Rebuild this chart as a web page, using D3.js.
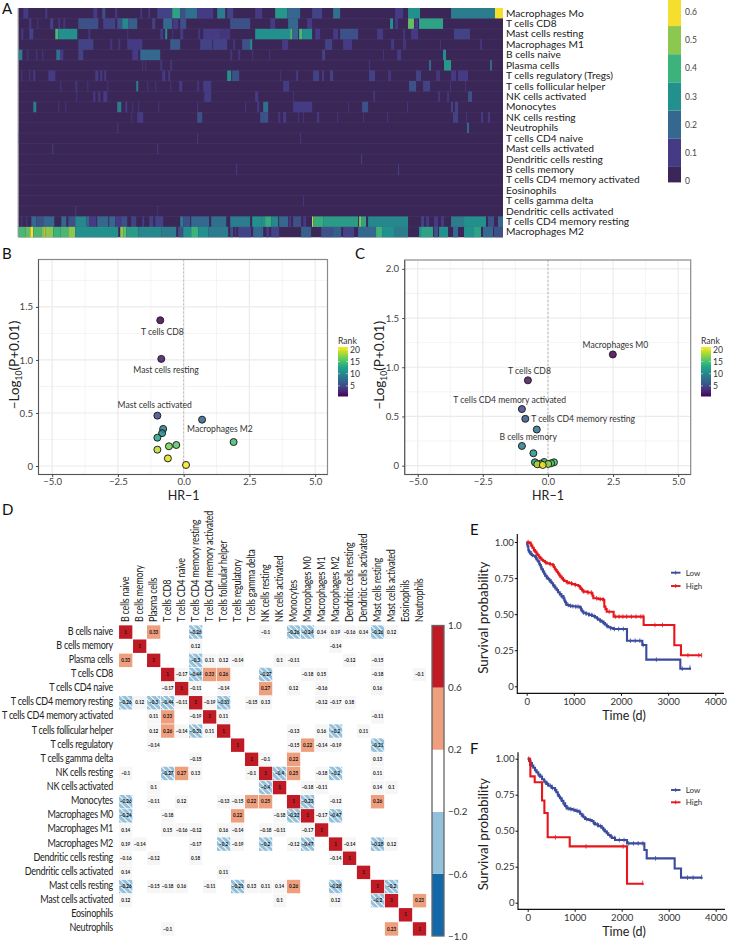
<!DOCTYPE html>
<html><head><meta charset="utf-8">
<script src="https://cdn.jsdelivr.net/npm/d3@7"></script>
<style>html,body{margin:0;padding:0;background:#fff}svg{display:block}text{font-family:Lato,"Open Sans",sans-serif}</style>
</head><body><svg id="c" width="735" height="942"></svg>
<script>
// ---- Panel A
const heatNames=["Macrophages M0","T cells CD8","Mast cells resting","Macrophages M1","B cells naive","Plasma cells","T cells regulatory (Tregs)","T cells follicular helper","NK cells activated","Monocytes","NK cells resting","Neutrophils","T cells CD4 naive","Mast cells activated","Dendritic cells resting","B cells memory","T cells CD4 memory activated","Eosinophils","T cells gamma delta","Dendritic cells activated","T cells CD4 memory resting","Macrophages M2"];
const heatDisplay=heatNames.map(d=>d==="Macrophages M0"?"Macrophages Mo":d);
const sampleCount=485;
// runs per row: [first sample, end sample, fraction]
const heatRuns=[
[[5,10,.1],[27,29,.1],[75,79,.1],[84,87,.15],[97,99,.1],[122,124,.08],[130,132,.08],[139,154,.12],[154,162,.35],[162,167,.15],[167,179,.22],[179,195,.1],[199,207,.25],[209,215,.12],[237,244,.1],[257,269,.32],[269,282,.2],[294,304,.12],[315,322,.22],[377,385,.1],[390,402,.3],[433,477,.25],[477,485,.6]],
[[11,13,.1],[19,20,.08],[32,35,.12],[40,42,.08],[45,47,.08],[60,80,.15],[85,97,.12],[99,104,.15],[104,110,.28],[110,119,.18],[134,137,.12],[145,154,.2],[155,160,.1],[162,168,.15],[212,232,.15],[252,257,.1],[270,280,.2],[289,294,.1],[372,375,.3],[377,380,.1],[390,396,.45],[397,400,.1],[401,425,.35]],
[[3,5,.1],[11,15,.12],[37,40,.42],[40,59,.3],[70,72,.08],[109,110,.08],[142,145,.1],[147,149,.3],[154,155,.08],[162,165,.1],[180,182,.08],[185,202,.1],[202,212,.08],[237,272,.3],[272,274,.42],[274,280,.2],[281,284,.42],[284,294,.3],[297,302,.1],[315,320,.1],[322,340,.15],[359,365,.1],[385,387,.08],[393,400,.1],[436,452,.12]],
[[60,75,.12],[92,94,.08],[100,102,.08],[109,124,.1],[152,162,.17],[182,194,.12],[195,209,.12],[215,217,.08],[224,232,.15],[232,234,.3],[264,270,.1],[307,314,.12],[325,334,.1],[373,376,.1],[385,388,.08],[422,423,.08],[462,464,.08]],
[[0,4,.25],[9,10,.1],[18,19,.1],[24,25,.1],[38,42,.22],[42,45,.1],[60,65,.12],[114,120,.1],[122,142,.2],[212,214,.08],[220,222,.08],[234,235,.08],[251,252,.08],[304,307,.12],[365,366,.08],[379,383,.1],[425,428,.3]],
[[124,125,.08],[127,128,.08],[142,144,.08],[152,154,.08],[351,352,.08],[411,413,.2],[426,433,.32],[472,474,.2]],
[[3,4,.1],[11,12,.1],[15,17,.1],[30,37,.1],[77,80,.1],[82,84,.1],[86,88,.1],[144,147,.1],[150,152,.1],[209,213,.3],[214,221,.15],[262,263,.08],[278,280,.1],[295,301,.12],[304,306,.1],[312,315,.12],[351,357,.12],[370,373,.08],[398,403,.12],[418,422,.08],[433,438,.1],[440,450,.1]],
[[42,43,.08],[57,59,.08],[69,70,.08],[89,90,.08],[118,120,.25],[129,130,.08],[137,138,.08],[152,153,.08],[161,164,.1],[179,181,.08],[185,193,.1],[265,271,.1],[391,398,.15],[405,412,.12],[432,433,.08],[447,448,.08]],
[[58,59,.08],[75,77,.1],[80,82,.1],[85,89,.1],[186,193,.1],[237,240,.1],[275,276,.08],[355,357,.08],[420,422,.08],[429,431,.08],[450,454,.15]],
[[15,18,.25],[40,41,.08],[47,48,.08],[99,103,.25],[107,109,.1],[114,115,.08],[120,121,.08],[140,141,.08],[179,180,.08],[227,228,.08],[239,241,.1],[245,250,.22],[275,294,.1],[330,331,.08],[344,350,.15],[389,390,.08],[433,435,.12],[437,440,.12]],
[[113,114,.08],[119,125,.1],[179,184,.15],[242,250,.15],[260,262,.08],[265,268,.1],[280,281,.08],[285,286,.08],[299,301,.1],[319,320,.08],[345,346,.08],[369,370,.08],[435,440,.12],[448,449,.08],[463,465,.1],[470,472,.1]],
[[99,100,.1],[449,451,.2]],
[[0,1,.1],[179,180,.1],[282,283,.1]],
[[34,35,.12],[139,140,.1]],
[[343,344,.12]],
[[218,219,.1],[380,381,.12]],
[],[],
[[285,286,.1]],
[[57,58,.1],[139,140,.07]],
[[3,4,.1],[8,9,.1],[13,18,.2],[18,25,.15],[25,36,.2],[43,48,.2],[50,57,.15],[57,68,.28],[68,71,.2],[71,78,.1],[79,90,.2],[91,97,.2],[97,103,.1],[103,109,.15],[113,118,.12],[124,126,.1],[131,135,.12],[137,145,.12],[162,165,.25],[165,172,.15],[173,191,.2],[193,208,.22],[212,232,.25],[234,243,.3],[243,247,.3],[247,253,.38],[253,260,.28],[261,270,.2],[271,273,.1],[275,283,.15],[285,288,.1],[294,295,.6],[295,305,.38],[305,340,.33],[341,343,.5],[343,348,.36],[350,390,.28],[403,406,.12],[408,411,.1],[416,420,.1],[423,426,.1],[433,446,.25],[446,468,.3],[470,476,.15],[480,485,.2]],
[[0,7,.42],[7,12,.45],[12,15,.6],[15,23,.42],[23,26,.48],[26,27,.6],[27,35,.5],[35,42,.4],[42,50,.42],[50,57,.5],[57,100,.3],[102,105,.5],[105,108,.45],[108,120,.33],[120,143,.28],[143,158,.25],[160,165,.15],[165,173,.3],[173,180,.4],[180,190,.3],[190,210,.25],[212,215,.15],[217,218,.12],[220,233,.12],[235,243,.2],[243,245,.2],[248,251,.1],[253,261,.12],[283,293,.18],[303,315,.15],[315,323,.18],[325,336,.12],[340,358,.2],[358,364,.4],[364,376,.3],[376,390,.25],[401,403,.3],[403,415,.35],[416,420,.15],[421,430,.3],[435,440,.2],[446,456,.3],[456,463,.35],[465,475,.2],[476,485,.15]]
];
const heatStops=[0,.1,.2,.3,.4,.5,.6];
const heatColors=["#3b2757","#453a84","#34688e","#22908c","#3bb37b","#8cc84f","#f5de2d"];
const heatTicks=[0,.1,.2,.3,.4,.5,.6];
// ---- Panels B, C
const pointsB=[["T cells CD8",-.89,1.374,1],["Mast cells resting",-.85,1.01,2],["Mast cells activated",-1,.475,5],["Macrophages M2",.7,.437,7],["",-.78,.35,9],["",-.82,.31,10],["",-1,.267,12],["",1.9,.226,14],["",-.28,.198,15],["",-.56,.186,16],["",-1,.154,18],["",-.6,.072,19],["",.09,.01,20]];
const pointsC=[["Macrophages M0",2.49,1.13,1],["T cells CD8",-.77,.867,2],["T cells CD4 memory activated",-1,.575,5],["T cells CD4 memory resting",-.87,.476,6],["",-.43,.367,8],["B cells memory",-1,.2,9],["",-.56,.126,11],["",-.5,.034,12],["",-.15,.037,13],["",.23,.034,14],["",.12,.024,15],["",-.29,.02,16],["",.01,.017,17],["",-.41,.014,18],["",-.2,.007,20]];
const labelOffsetB={"T cells CD8":[.08,-.115],"Mast cells resting":[.18,-.105],"Mast cells activated":[-.1,.1],"Macrophages M2":[.68,-.09]};
const labelOffsetC={"Macrophages M0":[.1,.095],"T cells CD8":[.06,.09],"T cells CD4 memory activated":[-.47,.09],"T cells CD4 memory resting":[2.22,-.005],"B cells memory":[.24,.09]};
const volcanoXTicks=[-5,-2.5,0,2.5,5];
const rankTicks=[5,10,15,20];
// ---- Panel D
const corrNames=["B cells naive","B cells memory","Plasma cells","T cells CD8","T cells CD4 naive","T cells CD4 memory resting","T cells CD4 memory activated","T cells follicular helper","T cells regulatory","T cells gamma delta","NK cells resting","NK cells activated","Monocytes","Macrophages M0","Macrophages M1","Macrophages M2","Dendritic cells resting","Dendritic cells activated","Mast cells resting","Mast cells activated","Eosinophils","Neutrophils"];
const corrPairs=[[0,2,.33],[0,5,-.26],[0,10,-.1],[0,12,-.26],[0,13,-.24],[0,14,.14],[0,15,.19],[0,16,-.16],[0,17,.14],[0,18,-.26],[0,19,.12],
[1,5,.12],[1,15,-.14],
[2,5,-.3],[2,6,.11],[2,7,.12],[2,8,-.14],[2,11,.1],[2,12,-.11],[2,16,-.12],[2,18,-.15],
[3,4,-.17],[3,5,-.44],[3,6,.33],[3,7,.26],[3,10,-.27],[3,13,-.18],[3,14,.15],[3,18,-.18],[3,21,-.1],
[4,5,-.11],[4,7,-.14],[4,10,.27],[4,12,.12],[4,14,-.16],[4,18,.16],
[5,6,-.19],[5,7,-.31],[5,9,-.15],[5,10,.13],[5,14,-.12],[5,15,-.17],[5,16,.18],
[6,7,.11],[6,18,-.11],
[7,12,-.13],[7,14,.16],[7,15,-.2],[7,17,.11],
[8,12,-.15],[8,13,.22],[8,14,-.14],[8,15,-.19],[8,18,-.21],
[9,10,-.1],[9,12,.22],[9,18,.13],
[10,11,-.4],[10,12,.25],[10,14,-.18],[10,15,-.2],[10,18,.11],
[11,13,-.18],[11,14,-.11],[11,18,.14],[11,19,.1],
[12,13,-.23],[12,15,-.12],[12,18,.26],
[13,14,-.17],[13,15,-.47],
[15,16,-.14],[15,18,-.28],[15,19,.12],
[18,19,-.2],[19,21,.23]];
const corrBins=[-1,-.6,-.2,.2,.6,1];
const corrBinColors=["#1268a8","#93c0da","#ffffff","#ee9f7e","#c01a25"];
// ---- Panels E, F
const survXTicks=[0,1000,2000,3000,4000];
const survYTicks=[0,.25,.5,.75,1];
const lowE=[[0,1],[10,.985],[20,.97],[35,.945],[45,.935],[60,.93],[85,.917],[105,.91],[130,.905],[177,.898],[195,.888],[210,.88],[230,.87],[247,.864],[265,.85],[280,.84],[300,.825],[318,.81],[345,.795],[370,.78],[395,.765],[424,.753],[450,.745],[480,.735],[505,.725],[530,.714],[560,.7],[585,.69],[610,.678],[636,.667],[665,.652],[700,.64],[735,.625],[777,.61],[800,.595],[815,.585],[830,.575],[848,.563],[900,.558],[950,.555],[1040,.552],[1130,.547],[1150,.535],[1165,.525],[1180,.518],[1200,.51],[1260,.503],[1320,.495],[1385,.487],[1450,.478],[1490,.47],[1520,.462],[1555,.455],[1590,.448],[1625,.438],[1660,.428],[1695,.418],[1730,.409],[1780,.403],[1837,.397],[2127,.316],[2452,.286],[2537,.185],[3258,.122],[3463,.13]];
const highE=[[0,1],[40,.995],[70,.99],[95,.975],[120,.96],[150,.945],[177,.933],[205,.92],[230,.91],[255,.898],[283,.887],[315,.877],[350,.868],[385,.86],[424,.852],[490,.846],[551,.84],[575,.827],[595,.815],[615,.805],[636,.794],[665,.782],[690,.77],[715,.76],[742,.748],[770,.738],[800,.73],[848,.72],[900,.714],[960,.708],[1030,.702],[1095,.695],[1125,.685],[1150,.675],[1175,.665],[1200,.656],[1290,.65],[1378,.644],[1395,.628],[1413,.61],[1520,.604],[1625,.598],[1646,.552],[1670,.535],[1696,.517],[1844,.483],[2480,.425],[3131,.284],[3272,.215],[3710,.215]];
const lowF=[[0,1],[30,.985],[60,.97],[90,.952],[120,.937],[155,.92],[190,.905],[225,.89],[262,.875],[305,.857],[350,.84],[395,.825],[440,.812],[510,.797],[582,.782],[610,.767],[640,.75],[665,.737],[688,.725],[725,.707],[760,.69],[795,.672],[830,.655],[890,.65],[950,.645],[1015,.638],[1078,.632],[1115,.618],[1150,.605],[1185,.593],[1220,.581],[1290,.574],[1362,.567],[1400,.555],[1433,.544],[1500,.532],[1574,.521],[1605,.508],[1640,.495],[1680,.482],[1716,.47],[1755,.46],[1790,.45],[1858,.435],[2113,.412],[2482,.366],[2532,.308],[3127,.238],[3262,.174],[3700,.178]];
const highF=[[0,1],[50,.956],[57,.877],[149,.836],[305,.71],[355,.623],[425,.454],[894,.391],[2113,.132],[2446,.137]];
const censorLowE=[60,120,200,300,380,430,480,520,560,600,650,700,740,790,830,880,930,980,1040,1090,1150,1210,1260,1320,1380,1430,1500,1560,1640,1700,1780,1860,1950,2050,2200,2300,2400,2470,2750,3300,3463];
const censorHighE=[30,90,150,210,300,400,500,560,700,780,860,950,1030,1130,1210,1300,1370,1480,1560,1620,1750,1880,1960,2040,2120,2220,2320,2420,2470,2720,2880,3420,3650,3710];
const censorLowF=[40,100,170,230,300,370,420,480,530,590,640,700,760,810,860,920,980,1050,1110,1180,1250,1330,1400,1480,1550,1620,1700,1780,1850,1950,2050,2150,2250,2350,2450,2720,3400,3520,3700];
const censorHighF=[20,590,1240,2030,2446];

const svg=d3.select("#c");
const ink="#333";
// letters
[["A",2,14],["B",2,259],["C",355,259],["D",2,515],["E",470,535],["F",470,754]].forEach(([t,x,y])=>svg.append("text").attr("x",x).attr("y",y).attr("font-size",15).attr("fill","#111").text(t));

// ---------- A
(function(){
 const x=d3.scaleLinear().domain([0,sampleCount]).range([18.3,503]);
 const y=d3.scaleBand().domain(heatNames).range([8,237.3]);
 const col=d3.scaleLinear().domain(heatStops).range(heatColors);
 const g=svg.append("g");
 g.append("rect").attr("x",x(0)).attr("y",y.range()[0]).attr("width",x(sampleCount)-x(0)).attr("height",y.range()[1]-y.range()[0]).attr("fill",col(0));
 heatNames.forEach((n,i)=>{
  g.selectAll(null).data(heatRuns[i]).join("rect").attr("x",d=>x(d[0])).attr("width",d=>x(d[1])-x(d[0])).attr("y",y(n)).attr("height",y.bandwidth()).attr("fill",d=>col(d[2]));
  if(i>0) g.append("line").attr("x1",x(0)).attr("x2",x(sampleCount)).attr("y1",y(n)).attr("y2",y(n)).attr("stroke","#fff").attr("stroke-opacity",.04);
 });
 g.append("line").attr("x1",18).attr("x2",18).attr("y1",8).attr("y2",237).attr("stroke","#aaa");
 svg.append("g").selectAll("text").data(heatNames).join("text").attr("x",506).attr("y",d=>y(d)+y.bandwidth()/2+3.4).attr("font-size",10.2).attr("fill","#222").text((d,i)=>heatDisplay[i]);
 // bar
 const bar=d3.scaleLinear().domain([0,.6]).range([181,12]);
 const edges=[.65,.55,.45,.35,.25,.15,.05,-.005];
 const cb=svg.append("g");
 heatColors.slice().reverse().forEach((c,i)=>cb.append("rect").attr("x",668).attr("width",13).attr("y",bar(edges[i])).attr("height",bar(edges[i+1])-bar(edges[i])).attr("fill",c));
 cb.selectAll("text").data(heatTicks).join("text").attr("x",685).attr("y",d=>bar(d)+3).attr("font-size",8.5).attr("fill","#444").text(d=>d);
})();

// ---------- volcano
function volcano(pts,off,fr,xd,yd,yTicks,legendX,titleX){
 const x=d3.scaleLinear().domain(xd).range([fr.l,fr.r]);
 const y=d3.scaleLinear().domain(yd).range([fr.b,fr.t]);
 const color=d3.scaleSequential(d3.interpolateViridis).domain([1,20]);
 const g=svg.append("g");
 const minorX=[-3.75,-1.25,1.25,3.75],minorY=yTicks.slice(0,-1).map((d,i)=>(d+yTicks[i+1])/2);
 if(yd[1]>yTicks[yTicks.length-1]+.2)minorY.push(yTicks[yTicks.length-1]+.25);
 g.append("rect").attr("x",fr.l).attr("y",fr.t).attr("width",fr.r-fr.l).attr("height",fr.b-fr.t).attr("fill","#fff");
 minorX.forEach(d=>g.append("line").attr("x1",x(d)).attr("x2",x(d)).attr("y1",fr.t).attr("y2",fr.b).attr("stroke","#efefef").attr("stroke-width",.7));
 minorY.forEach(d=>g.append("line").attr("y1",y(d)).attr("y2",y(d)).attr("x1",fr.l).attr("x2",fr.r).attr("stroke","#efefef").attr("stroke-width",.7));
 volcanoXTicks.forEach(d=>g.append("line").attr("x1",x(d)).attr("x2",x(d)).attr("y1",fr.t).attr("y2",fr.b).attr("stroke","#ebebeb").attr("stroke-width",1.2));
 yTicks.forEach(d=>g.append("line").attr("y1",y(d)).attr("y2",y(d)).attr("x1",fr.l).attr("x2",fr.r).attr("stroke","#ebebeb").attr("stroke-width",1.2));
 g.append("line").attr("x1",x(0)).attr("x2",x(0)).attr("y1",fr.t).attr("y2",fr.b).attr("stroke","#bbb").attr("stroke-dasharray","2,2");
 g.selectAll("circle").data(pts).join("circle").attr("cx",d=>x(d[1])).attr("cy",d=>y(d[2])).attr("r",3.5).attr("fill",d=>color(d[3])).attr("fill-opacity",.85).attr("stroke","#222").attr("stroke-width",1);
 g.selectAll("text.l").data(pts.filter(d=>d[0])).join("text").attr("class","l").attr("text-anchor","middle").attr("font-size",8.6).attr("fill","#333")
  .attr("x",d=>x(d[1]+off[d[0]][0])).attr("y",d=>y(d[2]+off[d[0]][1])+3).text(d=>d[0]);
 g.append("rect").attr("x",fr.l).attr("y",fr.t).attr("width",fr.r-fr.l).attr("height",fr.b-fr.t).attr("fill","none").attr("stroke","#8a8a8a").attr("stroke-width",1.2);
 g.append("path").attr("d",`M${fr.l},${fr.t}V${fr.b}H${fr.r}`).attr("fill","none").attr("stroke","#555").attr("stroke-width",1);
 const ax=g.append("g").attr("transform",`translate(0,${fr.b})`).call(d3.axisBottom(x).tickValues(volcanoXTicks).tickSize(2.5).tickPadding(1.5).tickFormat(d=>d3.format(".1f")(d).replace("-","−")));
 const ay=g.append("g").attr("transform",`translate(${fr.l},0)`).call(d3.axisLeft(y).tickValues(yTicks).tickSize(2.5).tickFormat(d=>d===0?"0":d3.format(".1f")(d)));
 [ax,ay].forEach(a=>{a.select(".domain").remove();a.selectAll("line").attr("stroke","#444");a.selectAll("text").attr("font-size",9.6).attr("fill","#444").style("font-family","Lato");});
 svg.append("text").attr("x",x(0)).attr("y",500).attr("text-anchor","middle").attr("font-size",12.5).attr("fill","#222").text("HR−1");
 const t=svg.append("text").attr("transform",`translate(${titleX},${(fr.t+fr.b)/2-2}) rotate(-90)`).attr("text-anchor","middle").attr("font-size",13.5).attr("fill","#222");
 t.append("tspan").text("−Log");t.append("tspan").attr("font-size",8.5).attr("dy",3).text("10");t.append("tspan").attr("dy",-3).text("(P+0.01)");
 // legend
 const ly=d3.scaleLinear().domain([1,20]).range([395.5,349.5]);
 const id="grad"+legendX;
 const gr=svg.append("defs").append("linearGradient").attr("id",id).attr("x1",0).attr("x2",0).attr("y1",1).attr("y2",0);
 d3.range(0,1.01,.1).forEach(s=>gr.append("stop").attr("offset",s).attr("stop-color",d3.interpolateViridis(s)));
 g.append("text").attr("x",legendX).attr("y",344).attr("font-size",8.6).attr("fill","#333").text("Rank");
 g.append("rect").attr("x",legendX).attr("y",347).attr("width",10).attr("height",49.5).attr("fill",`url(#${id})`);
 const lt=g.append("g").selectAll("g").data(rankTicks).join("g").attr("transform",d=>`translate(0,${ly(d)})`);
 lt.append("line").attr("x1",legendX).attr("x2",legendX+2).attr("stroke","#fff").attr("stroke-width",.5);
 lt.append("line").attr("x1",legendX+8).attr("x2",legendX+10).attr("stroke","#fff").attr("stroke-width",.5);
 lt.append("text").attr("x",legendX+12).attr("y",3).attr("font-size",8.6).attr("fill","#333").text(d=>d);
}
volcano(pointsB,labelOffsetB,{l:38.5,r:327.5,t:259.5,b:474.5},[-5.52,5.47],[-.08,1.947],[0,.5,1,1.5],338,19);
volcano(pointsC,labelOffsetC,{l:404.7,r:690.7,t:260,b:474.5},[-5.5,5.48],[-.09,2.09],[0,.5,1,1.5,2],701,384);

// ---------- D
(function(){
 const x=d3.scaleBand().domain(corrNames).range([118.7,426.5]);
 const y=d3.scaleBand().domain(corrNames).range([625,936]);
 const colr=d3.scaleThreshold().domain(corrBins.slice(1,-1)).range(corrBinColors);
 const cells=[];
 corrNames.forEach(n=>cells.push({a:n,b:n,v:1}));
 corrPairs.forEach(([i,j,v])=>{cells.push({a:corrNames[i],b:corrNames[j],v});cells.push({a:corrNames[j],b:corrNames[i],v});});
 const defs=svg.append("defs");
 const p=defs.append("pattern").attr("id","hatch").attr("width",4.2).attr("height",4.2).attr("patternUnits","userSpaceOnUse").attr("patternTransform","rotate(-45)");
 p.append("rect").attr("width",4.2).attr("height",4.2).attr("fill",corrBinColors[1]);
 p.append("rect").attr("width",1).attr("height",4.2).attr("fill","#fff");
 const g=svg.append("g");
 const w=x.bandwidth(),h=y.bandwidth(),inset=.35;
 g.selectAll("rect").data(cells).join("rect").attr("x",d=>x(d.b)+inset).attr("y",d=>y(d.a)+inset).attr("width",w-2*inset).attr("height",h-2*inset)
  .attr("fill",d=>{if(d.v<=-.2&&d.v>-.6)return "url(#hatch)";if(Math.abs(d.v)<.2)return "#f6f6f6";return colr(d.v);});
 g.selectAll("text").data(cells).join("text").attr("x",d=>x(d.b)+w/2).attr("y",d=>y(d.a)+h/2+1.6).attr("text-anchor","middle").attr("font-size",4.6).attr("font-weight",700).attr("fill","#111")
  .text(d=>String(d.v).replace("-","−"));
 svg.append("g").selectAll("text").data(corrNames).join("text").attr("transform",d=>`translate(113,${y(d)+h/2+2.5}) scale(.86,1)`).attr("text-anchor","end").attr("font-size",10.5).attr("letter-spacing",-.3).attr("fill","#222").text(d=>d);
 svg.append("g").selectAll("text").data(corrNames).join("text").attr("transform",d=>`translate(${x(d)+w/2+3},622) rotate(-90) scale(.86,1)`).attr("font-size",10.5).attr("letter-spacing",-.3).attr("fill","#222").text(d=>d);
 const bar=d3.scaleLinear().domain([-1,1]).range([936,625.5]);
 const cb=svg.append("g");
 corrBinColors.forEach((c,i)=>cb.append("rect").attr("x",432).attr("width",12).attr("y",bar(corrBins[i+1])).attr("height",bar(corrBins[i])-bar(corrBins[i+1])).attr("fill",c));
 cb.append("rect").attr("x",432).attr("width",12).attr("y",bar(1)).attr("height",bar(-1)-bar(1)).attr("fill","none").attr("stroke","#666").attr("stroke-width",1.3);
 const ax=cb.append("g").attr("transform","translate(444,0)").call(d3.axisRight(bar).tickValues(corrBins).tickSize(0).tickPadding(4).tickFormat(d=>d3.format(".1f")(d).replace("-","−")));
 ax.select(".domain").remove();ax.selectAll("text").attr("font-size",9.8).attr("fill","#333").style("font-family","Lato");
})();

// ---------- survival
function survival(low,high,cLow,cHigh,fr,legendY){
 const x=d3.scaleLinear().domain([0,4000]).range([fr.x0,fr.x4]);
 const y=d3.scaleLinear().domain([0,1]).range([fr.y0,fr.y1]);
 const g=svg.append("g");
 const line=d3.line().x(d=>x(d[0])).y(d=>y(d[1])).curve(d3.curveStepAfter);
 const at=(arr,t)=>arr[Math.max(0,d3.bisector(d=>d[0]).right(arr,t)-1)][1];
 [[low,cLow,"#3b4b9c"],[high,cHigh,"#e6161c"]].forEach(([arr,cen,c])=>{
  g.append("path").attr("d",line(arr)).attr("fill","none").attr("stroke",c).attr("stroke-width",2.1);
  g.selectAll(null).data(cen).join("line").attr("x1",d=>x(d)).attr("x2",d=>x(d)).attr("y1",d=>y(at(arr,d))-2.3).attr("y2",d=>y(at(arr,d))+2.3).attr("stroke",c).attr("stroke-width",.8);
 });
 const ax=g.append("g").attr("transform",`translate(0,${fr.bottom})`).call(d3.axisBottom(x).tickValues(survXTicks).tickSize(2.5).tickPadding(2.5).tickFormat(d=>d));
 const ay=g.append("g").attr("transform",`translate(${fr.left},0)`).call(d3.axisLeft(y).tickValues(survYTicks).tickSize(2.5).tickPadding(1).tickFormat(d=>d===0?"0":d3.format(".2f")(d)));
 [ax,ay].forEach(a=>{a.select(".domain").remove();a.selectAll("line").attr("stroke","#111");a.selectAll("text").attr("font-size",9.6).attr("fill","#333").style("font-family","Lato");});
 g.append("path").attr("d",`M${fr.left},${fr.top}V${fr.bottom}H${fr.right}`).attr("fill","none").attr("stroke","#111").attr("stroke-width",1.2);
 svg.append("text").attr("transform",`translate(488,${fr.y1+(fr.y0-fr.y1)/2+3.5}) rotate(-90)`).attr("text-anchor","middle").attr("font-size",13.4).attr("fill","#222").text("Survival probability");
 svg.append("text").attr("x",624).attr("y",fr.bottom+27).attr("text-anchor","middle").attr("font-size",12.5).attr("fill","#222").text("Time (d)");
 [["Low","#3b4b9c",legendY[0]],["High","#e6161c",legendY[1]]].forEach(([t,c,ly])=>{
  g.append("line").attr("x1",671).attr("x2",680.5).attr("y1",ly).attr("y2",ly).attr("stroke",c).attr("stroke-width",1.9);
  g.append("line").attr("x1",675.7).attr("x2",675.7).attr("y1",ly-2).attr("y2",ly+2).attr("stroke",c).attr("stroke-width",.8);
  g.append("text").attr("x",685.7).attr("y",ly+2.8).attr("font-size",8).attr("fill","#333").text(t);
 });
}
survival(lowE,highE,censorLowE,censorHighE,{x0:526.7,x4:715.3,y0:686.3,y1:542,left:517.3,right:724,top:534,bottom:693.3},[572.7,586]);
survival(lowF,highF,censorLowF,censorHighF,{x0:527.7,x4:715.7,y0:902.7,y1:758.7,left:518,right:725,top:752.3,bottom:909.3},[790,802.3]);
</script></body></html>
